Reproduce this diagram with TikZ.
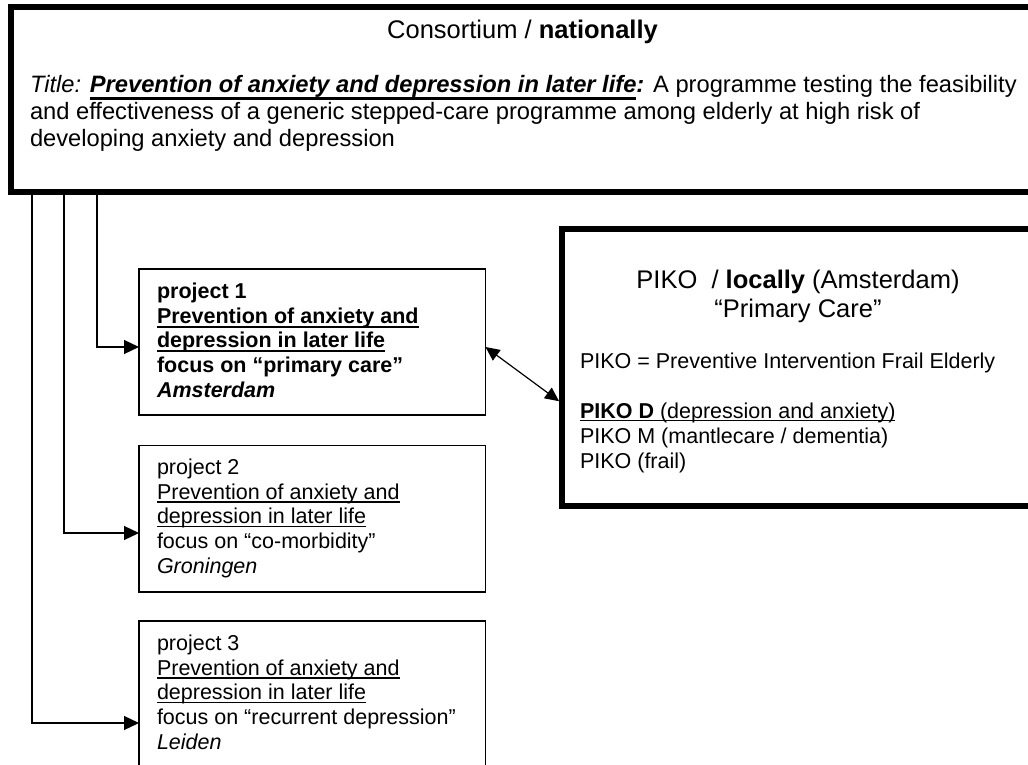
\documentclass[tikz,border=0pt]{standalone}
\usepackage{fontspec}
\setmainfont{Liberation Sans}
\usetikzlibrary{arrows.meta}
\newsavebox\ulbox
\newcommand\ulx[3]{\sbox\ulbox{#3}\rlap{\rule[-#1]{\wd\ulbox}{#2}}\usebox\ulbox}
\begin{document}
\begin{tikzpicture}[x=1pt,y=-1pt,
  thickbox/.style={draw, line width=6pt, inner sep=0pt, outer sep=0pt, anchor=north west},
  projbox/.style={draw, line width=1.2pt, inner sep=0pt, outer sep=0pt, anchor=north west, minimum width=346.5pt},
  link/.style={line width=1.2pt},
  arr/.style={link, -{Triangle[length=15pt,width=14pt]}},
  darr/.style={link, {Triangle[length=14pt,width=13pt]}-{Triangle[length=14pt,width=13pt]}},
  txt/.style={inner sep=0pt, outer sep=0pt, anchor=base west},
]
\clip (0,0) rectangle (1028,765);
\fill[white] (0,0) rectangle (1028,765);

% boxes (right edges run past the picture's edge, as in the reference)
\node[thickbox, minimum width=1035pt, minimum height=184.5pt] (top) at (11,7) {};
\node[thickbox, minimum width=485pt, minimum height=277pt] (piko) at (561.5,228.5) {};
\node[projbox, minimum height=146pt] (p1) at (139,269) {};
\node[projbox, minimum height=146.5pt] (p2) at (139,445.5) {};
\node[projbox, minimum height=146pt] (p3) at (139,621) {};

% texts
\node[txt, anchor=base] (toptitle) at (522.5,39)
  {\fontsize{25.5}{29}\selectfont Consortium / \textbf{nationally}};
\node[txt] (topbody) at (30,93) {\parbox[t]{1000pt}{\fontsize{23.7}{27}\selectfont
  \textit{Title:} \textbf{\textit{\ulx{6.6pt}{2.6pt}{Prevention of anxiety and depression in later life}:}} A programme testing the feasibility\\
  and effectiveness of a generic stepped-care programme among elderly at high risk of\\
  developing anxiety and depression}};

\node[txt] (p1t) at (157,298.5) {\parbox[t]{320pt}{\fontsize{21.5}{24.7}\selectfont\bfseries
  project 1\\
  \ulx{4.5pt}{2.2pt}{Prevention of anxiety and}\\
  \ulx{4.5pt}{2.2pt}{depression in later life}\\
  focus on “primary care”\\
  \textit{Amsterdam}}};
\node[txt] (p2t) at (157,474.5) {\parbox[t]{320pt}{\fontsize{21.5}{24.7}\selectfont
  project 2\\
  \ulx{3.5pt}{1.3pt}{Prevention of anxiety and}\\
  \ulx{3.5pt}{1.3pt}{depression in later life}\\
  focus on “co-morbidity”\\
  \textit{Groningen}}};
\node[txt] (p3t) at (157,650.5) {\parbox[t]{320pt}{\fontsize{21.5}{24.7}\selectfont
  project 3\\
  \ulx{3.5pt}{1.3pt}{Prevention of anxiety and}\\
  \ulx{3.5pt}{1.3pt}{depression in later life}\\
  focus on “recurrent depression”\\
  \textit{Leiden}}};

\node[txt, anchor=base] (pikotitle) at (798,288.3) {\parbox[t]{440pt}{\centering\fontsize{25.5}{29.4}\selectfont
  PIKO\ \ / \textbf{locally} (Amsterdam)\\
  “Primary Care”}};
\node[txt] (pikobody) at (580,368.5) {\parbox[t]{440pt}{\fontsize{21.5}{24.9}\selectfont
  PIKO = Preventive Intervention Frail Elderly\\[24.9pt]
  \ulx{3pt}{1.6pt}{\textbf{PIKO D} (depression and anxiety)}\\
  PIKO M (mantlecare / dementia)\\
  PIKO (frail)}};

% connectors
\draw[arr] ([xshift=86pt]top.south west) |- (p1.west |- 0,347);
\draw[arr] ([xshift=53pt]top.south west) |- (p2.west |- 0,533);
\draw[arr] ([xshift=21pt]top.south west) |- (p3.west |- 0,723);
\draw[darr, shorten >=3pt] (p1.east |- 0,347) -- (piko.west |- 0,403);
\end{tikzpicture}
\end{document}
